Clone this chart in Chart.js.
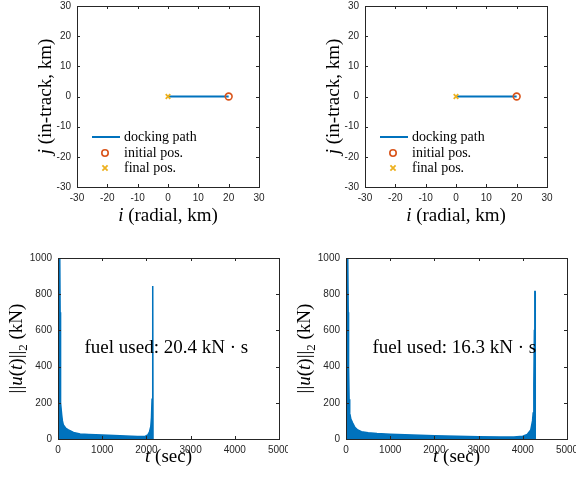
<!DOCTYPE html>
<html>
<head>
<meta charset="utf-8">
<script src="https://cdn.jsdelivr.net/npm/chart.js@4/dist/chart.umd.min.js"></script>
<style>
  html, body { margin: 0; padding: 0; background: #fff; }
  #wrap { position: relative; width: 576px; height: 480px; background: #fff; }
  #wrap canvas { position: absolute; }
</style>
</head>
<body>
<div id="wrap">
  <canvas id="pathA" width="288" height="240" style="left:0;top:0;width:288px;height:240px"></canvas>
  <canvas id="pathB" width="288" height="240" style="left:288px;top:0;width:288px;height:240px"></canvas>
  <canvas id="thrustA" width="288" height="240" style="left:0;top:240px;width:288px;height:240px"></canvas>
  <canvas id="thrustB" width="288" height="240" style="left:288px;top:240px;width:288px;height:240px"></canvas>
</div>
<script>
// ---- docking trajectory (km) ----
const pathI = [20, 0];
const pathJ = [0, 0];
const initialI = [20];
const initialJ = [0];
const finalI = [0];
const finalJ = [0];
const posTicks = [-30, -20, -10, 0, 10, 20, 30];
const legendLabels = ['docking path', 'initial pos.', 'final pos.'];

// ---- thrust magnitude envelopes (t in sec, ||u|| in kN) ----
const timeA = [0, 40, 48, 54, 62, 84, 100, 122, 180, 236, 350, 500, 700, 1000, 1400, 1800, 1970, 2030, 2070, 2100, 2115, 2128, 2138, 2144, 2148, 2150];
const thrustA = [1000, 1000, 700, 337, 200, 132, 100, 77, 58, 50, 36, 28, 25, 22, 18, 14, 14, 22, 40, 70, 120, 220, 420, 845, 845, 0];
const timeB = [0, 40, 50, 58, 70, 84, 110, 152, 200, 265, 350, 500, 700, 1000, 1500, 2000, 2500, 3000, 3500, 3800, 4000, 4100, 4180, 4220, 4235, 4250, 4262, 4272, 4280, 4282];
const thrustB = [1000, 1000, 700, 400, 220, 143, 110, 88, 65, 50, 40, 35, 30, 26, 22, 18, 15, 13, 11, 11, 15, 25, 50, 100, 143, 300, 600, 815, 815, 0];
const timeTicks = [0, 1000, 2000, 3000, 4000, 5000];
const thrustTicks = [0, 200, 400, 600, 800, 1000];
const fuelA = '20.4';
const fuelB = '16.3';

const BLUE = '#0072BD';
const ORANGE = '#D95319';
const YELLOW = '#EDB120';
const AXIS = '#262626';
const SERIF = '"Liberation Serif", "Times New Roman", serif';
const SANS = '"Liberation Sans", Arial, sans-serif';

function serif(size, italic) {
  return (italic ? 'italic ' : '') + size + 'px ' + SERIF;
}

// draw a run of mixed-style text segments: [text, italic, sub]
function drawRich(ctx, segs, x, y, size, rotate, align) {
  ctx.save();
  ctx.translate(x, y);
  if (rotate) ctx.rotate(-Math.PI / 2);
  ctx.fillStyle = '#000';
  ctx.textBaseline = 'alphabetic';
  ctx.textAlign = 'left';
  const parts = segs.map(s => {
    const f = serif(s[2] ? Math.round(size * 0.7) : size, s[1]);
    ctx.font = f;
    return { text: s[0], font: f, sub: s[2], w: ctx.measureText(s[0]).width };
  });
  const total = parts.reduce((a, p) => a + p.w, 0);
  let cx = align === 'left' ? 0 : -total / 2;
  parts.forEach(p => {
    ctx.font = p.font;
    ctx.fillText(p.text, cx, p.sub ? size * 0.25 : 0);
    cx += p.w;
  });
  ctx.restore();
}

// box + inward ticks on all four sides
const boxPlugin = {
  id: 'matlabBox',
  afterDatasetsDraw(chart) {
    const { ctx, chartArea: a, scales } = chart;
    const len = 3;
    ctx.save();
    ctx.strokeStyle = AXIS;
    ctx.lineWidth = 1;
    ctx.beginPath();
    scales.x.ticks.forEach(t => {
      const px = Math.round(scales.x.getPixelForValue(t.value)) + 0.5;
      ctx.moveTo(px, a.bottom); ctx.lineTo(px, a.bottom - len);
      ctx.moveTo(px, a.top); ctx.lineTo(px, a.top + len);
    });
    scales.y.ticks.forEach(t => {
      const py = Math.round(scales.y.getPixelForValue(t.value)) + 0.5;
      ctx.moveTo(a.left, py); ctx.lineTo(a.left + len, py);
      ctx.moveTo(a.right, py); ctx.lineTo(a.right - len, py);
    });
    ctx.stroke();
    ctx.strokeRect(Math.round(a.left) + 0.5, Math.round(a.top) + 0.5,
      Math.round(a.right - a.left), Math.round(a.bottom - a.top));
    ctx.restore();
  }
};

function labelsPlugin(xTitle, xTitleY, yTitle, yTitleX, extra) {
  return {
    id: 'axisTitles',
    afterDraw(chart) {
      const { ctx, chartArea: a } = chart;
      drawRich(ctx, xTitle, (a.left + a.right) / 2, xTitleY, 19, false);
      drawRich(ctx, yTitle, yTitleX, (a.top + a.bottom) / 2, 19, true);
      if (extra) extra(chart);
    }
  };
}

function pathLegend(chart) {
  const { ctx, chartArea: a } = chart;
  const x0 = a.left + 15, rows = [a.top + 131, a.top + 147, a.top + 162];
  const mx = x0 + 13;
  ctx.save();
  ctx.strokeStyle = BLUE; ctx.lineWidth = 2;
  ctx.beginPath(); ctx.moveTo(x0, rows[0]); ctx.lineTo(x0 + 28, rows[0]); ctx.stroke();
  ctx.strokeStyle = ORANGE; ctx.lineWidth = 1.6;
  ctx.beginPath(); ctx.arc(mx, rows[1], 3.2, 0, Math.PI * 2); ctx.stroke();
  ctx.strokeStyle = YELLOW; ctx.lineWidth = 1.8;
  ctx.beginPath();
  ctx.moveTo(mx - 2.6, rows[2] - 2.6); ctx.lineTo(mx + 2.6, rows[2] + 2.6);
  ctx.moveTo(mx - 2.6, rows[2] + 2.6); ctx.lineTo(mx + 2.6, rows[2] - 2.6);
  ctx.stroke();
  ctx.fillStyle = '#000';
  ctx.font = serif(14, false);
  ctx.textBaseline = 'middle';
  legendLabels.forEach((t, k) => ctx.fillText(t, x0 + 32, rows[k]));
  ctx.restore();
}

function fuelNote(value) {
  return chart => {
    const { ctx, scales } = chart;
    ctx.save();
    ctx.fillStyle = '#000';
    ctx.font = serif(19, false);
    ctx.textBaseline = 'middle';
    ctx.fillText('fuel used: ' + value + ' kN \u00B7 s',
      scales.x.getPixelForValue(600), scales.y.getPixelForValue(500));
    ctx.restore();
  };
}

function axisOpts(ticks, min, max, fitSize, isX) {
  return {
    type: 'linear',
    min, max,
    afterBuildTicks: s => { s.ticks = ticks.map(v => ({ value: v })); },
    afterFit: s => {
      if (isX) s.height = fitSize; else s.width = fitSize;
      s.paddingLeft = s.paddingRight = s.paddingTop = s.paddingBottom = 0;
    },
    grid: { display: true, drawOnChartArea: false, drawTicks: false },
    border: { display: false },
    ticks: {
      font: { family: SANS, size: 10 },
      color: AXIS,
      padding: isX ? 5 : 6,
      autoSkip: false,
      maxRotation: 0,
      minRotation: 0,
      callback: v => String(v)
    }
  };
}

const base = {
  responsive: false,
  animation: false,
  devicePixelRatio: 1,
  plugins: { legend: { display: false }, tooltip: { enabled: false } },
  events: []
};

const xy = (xs, ys) => xs.map((v, k) => ({ x: v, y: ys[k] }));

const posXTitle = [['i', true], [' (radial, km)', false]];
const posYTitle = [['j', true], [' (in-track, km)', false]];
const thrustXTitle = [['t', true], [' (sec)', false]];
const thrustYTitle = [['||', false], ['u', true], ['(', false], ['t', true], [')||', false], ['2', false, true], [' (kN)', false]];

function makePath(id) {
  new Chart(document.getElementById(id), {
    type: 'scatter',
    data: {
      datasets: [
        { data: xy(finalI, finalJ), pointStyle: 'crossRot', pointRadius: 3.2, pointBorderWidth: 1.8,
          borderColor: YELLOW, backgroundColor: YELLOW, order: 1 },
        { data: xy(initialI, initialJ), pointStyle: 'circle', pointRadius: 3.4, pointBorderWidth: 1.6,
          borderColor: ORANGE, backgroundColor: 'rgba(0,0,0,0)', order: 2 },
        { data: xy(pathI, pathJ), showLine: true, borderColor: BLUE, borderWidth: 2,
          pointRadius: 0, order: 3 }
      ]
    },
    options: Object.assign({}, base, {
      layout: { padding: { left: 0, top: 6, right: 29, bottom: 0 } },
      scales: {
        x: axisOpts(posTicks, -30, 30, 53, true),
        y: axisOpts(posTicks, -30, 30, 77, false)
      }
    }),
    plugins: [boxPlugin, labelsPlugin(posXTitle, 221, posYTitle, 51, pathLegend)]
  });
}

function makeThrust(id, ts, us, fuel) {
  new Chart(document.getElementById(id), {
    type: 'line',
    data: {
      datasets: [
        { data: xy(ts, us), borderColor: BLUE, backgroundColor: BLUE, borderWidth: 1.5,
          fill: 'origin', pointRadius: 0, tension: 0 }
      ]
    },
    options: Object.assign({}, base, {
      layout: { padding: { left: 0, top: 18, right: 9, bottom: 0 } },
      scales: {
        x: axisOpts(timeTicks, 0, 5000, 41, true),
        y: axisOpts(thrustTicks, 0, 1000, 58, false)
      }
    }),
    plugins: [boxPlugin, labelsPlugin(thrustXTitle, 222, thrustYTitle, 22, fuelNote(fuel))]
  });
}

makePath('pathA');
makePath('pathB');
makeThrust('thrustA', timeA, thrustA, fuelA);
makeThrust('thrustB', timeB, thrustB, fuelB);
</script>
</body>
</html>
